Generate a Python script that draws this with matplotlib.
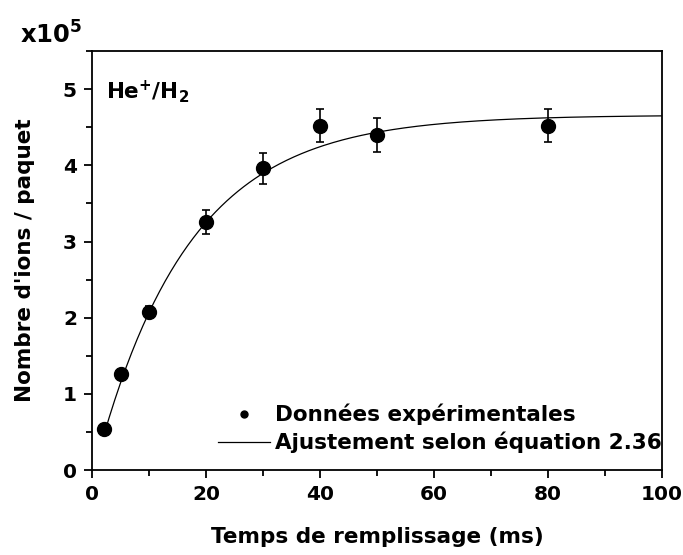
import matplotlib
matplotlib.use("Agg")
import matplotlib.pyplot as plt
import numpy as np
from matplotlib.ticker import MultipleLocator

plt.rcParams["font.family"] = ["DejaVu Sans"]
plt.rcParams["font.weight"] = "bold"
plt.rcParams["mathtext.default"] = "bf"

# filling time (ms) and ion counts per bunch (x1e5)
fill_time = [2, 5, 10, 20, 30, 40, 50, 80]
n_ions = [0.54, 1.26, 2.08, 3.26, 3.96, 4.52, 4.40, 4.52]
n_err = [0.03, 0.04, 0.07, 0.16, 0.20, 0.22, 0.22, 0.22]

# fit parameters: N(t) = N_max * (1 - exp(-(t - t0) / tau))
n_max = 4.66
tau = 16.4
t0 = 0.35

fig = plt.figure(figsize=(6.83, 5.55), dpi=100)
ax = fig.add_axes([0.135, 0.153, 0.834, 0.755])

t_fit = np.linspace(2, 100, 300)
ax.plot(t_fit, n_max * (1 - np.exp(-(t_fit - t0) / tau)), color="black",
        lw=0.9, label="Ajustement selon équation 2.36")
ax.errorbar(fill_time, n_ions, yerr=n_err, fmt="o", color="black", ms=10,
            elinewidth=1.2, capsize=3, capthick=1.2, zorder=3)
ax.plot([], [], "o", color="black", ms=5, label="Données expérimentales")

ax.set_xlim(0, 100)
ax.set_ylim(0, 5.5)
ax.xaxis.set_major_locator(MultipleLocator(20))
ax.xaxis.set_minor_locator(MultipleLocator(10))
ax.yaxis.set_major_locator(MultipleLocator(1))
ax.yaxis.set_minor_locator(MultipleLocator(0.5))
ax.tick_params(which="both", direction="out", width=1.3, top=False, right=False)
ax.tick_params(which="major", length=6, labelsize=14.5, pad=5)
ax.tick_params(which="minor", length=4)
for s in ax.spines.values():
    s.set_linewidth(1.3)

ax.set_xlabel("Temps de remplissage (ms)", fontsize=15.5, fontweight="bold", labelpad=16)
ax.set_ylabel("Nombre d'ions / paquet", fontsize=15.5, fontweight="bold", labelpad=20)

ax.text(0.025, 0.935, "He$^{+}$/H$_{2}$", transform=ax.transAxes, fontsize=15.5,
        fontweight="bold", va="top")
fig.text(0.03, 0.922, "x10$^{5}$", fontsize=17.5, fontweight="bold")

handles, labels = ax.get_legend_handles_labels()
ax.legend(handles[::-1], labels[::-1], loc="lower right", frameon=False,
          fontsize=15.5, handlelength=2.4, handletextpad=0.25, borderaxespad=0.0,
          labelspacing=0.3, bbox_to_anchor=(1.015, 0.02))

fig.savefig("out.png", dpi=100)
